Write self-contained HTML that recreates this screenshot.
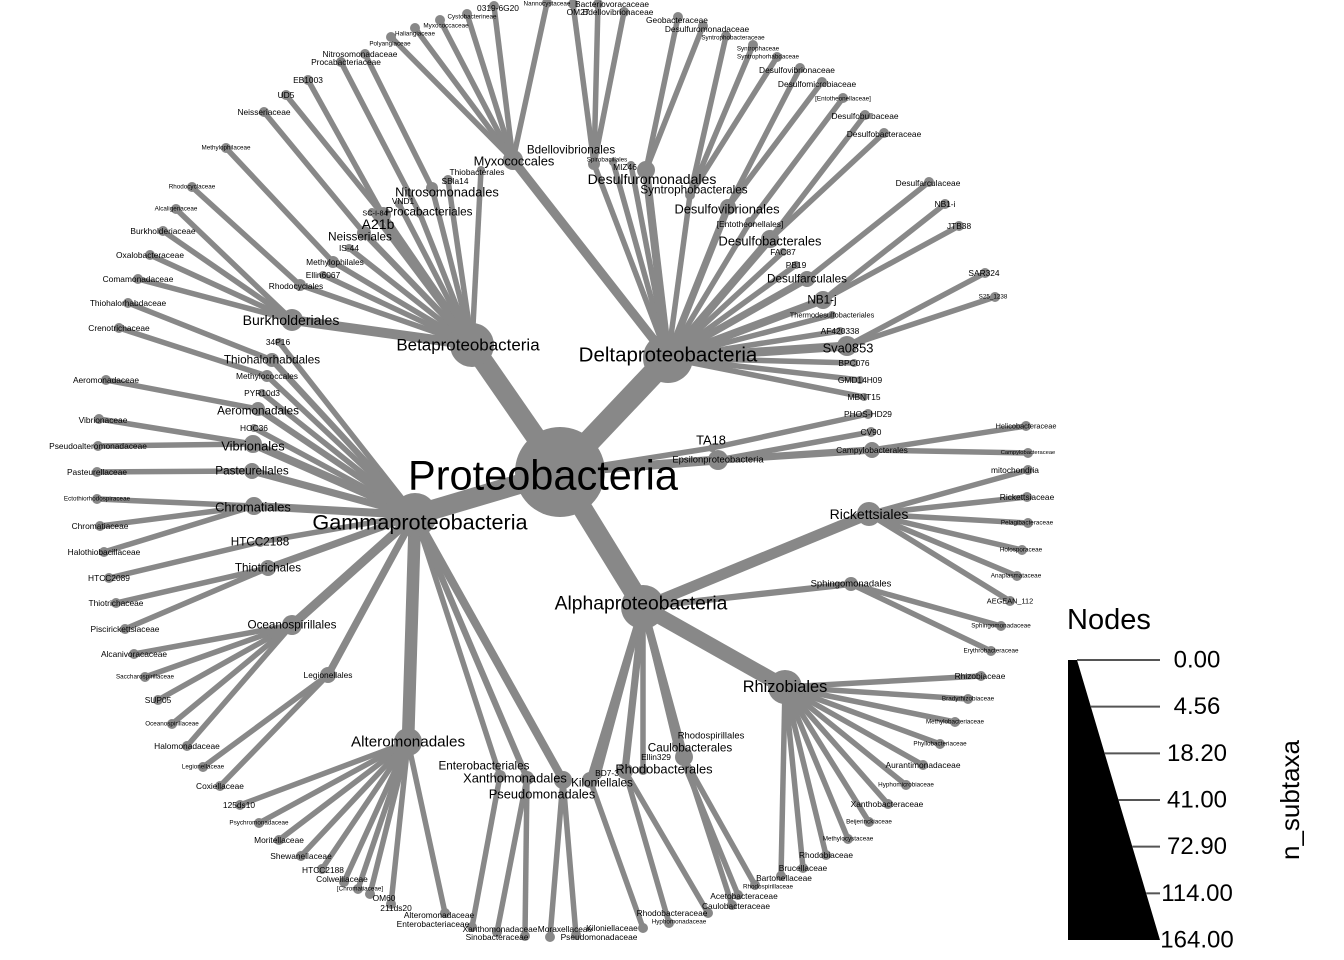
<!DOCTYPE html>
<html><head><meta charset="utf-8">
<style>
html,body{margin:0;padding:0;background:#fff;}
svg{display:block;font-family:"Liberation Sans",Arial,sans-serif;}
</style></head>
<body>
<svg id="chart" width="1344" height="960" viewBox="0 0 1344 960" xmlns="http://www.w3.org/2000/svg">
<g id="edges"></g>
<g id="nodes"></g>
<g id="labels"></g>
<g id="legend"></g>
</svg>
<script>
// taxon table: name, parent, x, y, radius, label font size, optional label x, label y
const taxa = [
["Proteobacteria",null,560,472,45,42,543,475],
["Betaproteobacteria","Proteobacteria",472,345,22,14.5,468,345],
["Deltaproteobacteria","Proteobacteria",668,358,25,17.5,668,355],
["Gammaproteobacteria","Proteobacteria",415,515,22,18.5,420,522],
["Alphaproteobacteria","Proteobacteria",643,607,22,16.5,641,604],
["Epsilonproteobacteria","Proteobacteria",718,460,10,9],
["TA18","Proteobacteria",712,448,4,11,711,440],
["Burkholderiales","Betaproteobacteria",292,320,11,12,291,320],
["Rhodocyclales","Betaproteobacteria",300,285,6,8,296,286],
["Ellin6067","Betaproteobacteria",323,275,4,8],
["Methylophilales","Betaproteobacteria",333,262,6,8,335,262],
["IS-44","Betaproteobacteria",349,248,4,8],
["Neisseriales","Betaproteobacteria",364,233,7,10,360,237],
["A21b","Betaproteobacteria",383,215,8,12,378,224],
["SC-I-84","Betaproteobacteria",372,212,4,7,375,213],
["VND1","Betaproteobacteria",399,204,4,8,403,201],
["Procabacteriales","Betaproteobacteria",420,214,4,10,429,212],
["Nitrosomonadales","Betaproteobacteria",432,188,6,11,447,192],
["SBla14","Betaproteobacteria",448,180,5,8,455,181],
["Thiobacterales","Betaproteobacteria",481,170,4,8,477,172],
["Methylophilaceae","Methylophilales",226,148,5,6],
["Rhodocyclaceae","Rhodocyclales",192,187,5,6],
["Alcaligenaceae","Burkholderiales",176,209,5,6],
["Burkholderiaceae","Burkholderiales",163,231,5,8],
["Oxalobacteraceae","Burkholderiales",150,255,5,8],
["Comamonadaceae","Burkholderiales",138,279,5,8],
["Neisseriaceae","Neisseriales",264,112,5,8],
["UD5","A21b",286,95,5,8],
["EB1003","A21b",308,80,5,8],
["Procabacteriaceae","Procabacteriales",341,62,5,8,346,62],
["Nitrosomonadaceae","Nitrosomonadales",365,54,5,8,360,54],
["Myxococcales","Deltaproteobacteria",513,160,10,11,514,161],
["Bdellovibrionales","Deltaproteobacteria",594,164,6,10,571,150],
["Spirobacillales","Deltaproteobacteria",613,162,4,6,607,160],
["MIZ46","Deltaproteobacteria",631,165,4,8,625,167],
["Desulfuromonadales","Deltaproteobacteria",646,170,9,12,652,179],
["Syntrophobacterales","Deltaproteobacteria",690,195,5,10,694,190],
["Desulfovibrionales","Deltaproteobacteria",728,207,8,11,727,209],
["[Entotheonellales]","Deltaproteobacteria",750,222,5,8,750,224],
["Desulfobacterales","Deltaproteobacteria",770,239,9,11,770,241],
["FAC87","Deltaproteobacteria",783,252,4,8],
["PB19","Deltaproteobacteria",796,265,4,8],
["Desulfarculales","Deltaproteobacteria",807,279,8,10],
["NB1-j","Deltaproteobacteria",823,300,9,10,822,300],
["Thermodesulfobacteriales","Deltaproteobacteria",832,315,4,7],
["AF420338","Deltaproteobacteria",840,331,4,8],
["Sva0853","Deltaproteobacteria",847,346,10,11,848,348],
["BPC076","Deltaproteobacteria",854,363,4,8],
["GMD14H09","Deltaproteobacteria",860,380,4,8],
["MBNT15","Deltaproteobacteria",864,397,4,8],
["Polyangiaceae","Myxococcales",391,37,5,6,390,44],
["Haliangiaceae","Myxococcales",415,28,5,6,415,34],
["Myxococcaceae","Myxococcales",440,20,5,6,446,26],
["Cystobacterineae","Myxococcales",467,14,5,6,472,17],
["0319-6G20","Myxococcales",494,6,5,8,498,8],
["Nannocystaceae","Myxococcales",547,3,5,6,547,4],
["OM27","Bdellovibrionales",573,4,5,8,578,12],
["Bacteriovoracaceae","Bdellovibrionales",598,4,5,8,612,4],
["Bdellovibrionaceae","Bdellovibrionales",624,12,5,8,618,12],
["Geobacteraceae","Desulfuromonadales",678,17,5,8,677,20],
["Desulfuromonadaceae","Desulfuromonadales",703,26,5,8,707,29],
["Syntrophobacteraceae","Syntrophobacterales",726,36,5,6,733,38],
["Syntrophaceae","Syntrophobacterales",753,45,5,6,758,49],
["Syntrophorhabdaceae","Syntrophobacterales",777,57,5,6,768,57],
["Desulfovibrionaceae","Desulfovibrionales",800,68,5,8,797,70],
["Desulfomicrobiaceae","Desulfovibrionales",822,82,5,8,817,84],
["[Entotheonellaceae]","[Entotheonellales]",843,98,5,6,843,99],
["Desulfobulbaceae","Desulfobacterales",865,115,5,8,865,116],
["Desulfobacteraceae","Desulfobacterales",884,133,5,8,884,134],
["Desulfarculaceae","Desulfarculales",929,182,5,8,928,183],
["NB1-i","NB1-j",945,204,5,8],
["JTB38","NB1-j",959,226,5,8],
["SAR324","Sva0853",985,273,5,8,984,273],
["S25_1238","Sva0853",995,297,5,6,993,297],
["PHOS-HD29","TA18",868,414,5,8],
["CV90","Epsilonproteobacteria",871,432,5,8],
["Campylobacterales","Epsilonproteobacteria",872,450,8,8],
["Helicobacteraceae","Campylobacterales",1026,426,5,7],
["Campylobacteraceae","Campylobacterales",1028,453,5,5.5],
["Rickettsiales","Alphaproteobacteria",869,514,12,12],
["Sphingomonadales","Alphaproteobacteria",851,584,7,9],
["Rhizobiales","Alphaproteobacteria",785,687,17,14],
["Caulobacterales","Alphaproteobacteria",684,757,9,10,690,748],
["Rhodospirillales","Alphaproteobacteria",676,744,4,9,711,736],
["Ellin329","Alphaproteobacteria",643,770,5,8,656,757],
["Rhodobacterales","Alphaproteobacteria",625,771,8,11,664,769],
["BD7-3","Alphaproteobacteria",598,775,4,8,607,773],
["Kiloniellales","Alphaproteobacteria",590,780,8,10,602,783],
["mitochondria","Rickettsiales",1028,470,5,8,1015,470],
["Rickettsiaceae","Rickettsiales",1027,497,5,8],
["Pelagibacteraceae","Rickettsiales",1028,523,5,6,1027,523],
["Holosporaceae","Rickettsiales",1022,550,5,6,1021,550],
["Anaplasmataceae","Rickettsiales",1017,576,5,6,1016,576],
["AEGEAN_112","Rickettsiales",1010,601,5,7],
["Sphingomonadaceae","Sphingomonadales",1001,626,5,6],
["Erythrobacteraceae","Sphingomonadales",991,651,5,6],
["Rhizobiaceae","Rhizobiales",981,676,5,8,980,676],
["Bradyrhizobiaceae","Rhizobiales",968,699,5,6],
["Methylobacteriaceae","Rhizobiales",955,722,5,6],
["Phyllobacteriaceae","Rhizobiales",940,744,5,6],
["Aurantimonadaceae","Rhizobiales",923,765,5,8],
["Hyphomicrobiaceae","Rhizobiales",906,785,5,6],
["Xanthobacteraceae","Rhizobiales",888,804,5,8,887,804],
["Beijerinckiaceae","Rhizobiales",869,822,5,6],
["Methylocystaceae","Rhizobiales",848,839,5,6],
["Rhodobiaceae","Rhizobiales",826,855,5,8],
["Brucellaceae","Rhizobiales",803,868,5,8],
["Bartonellaceae","Rhizobiales",781,876,5,8,784,878],
["Rhodospirillaceae","Rhodospirillales",755,885,5,6,768,887],
["Acetobacteraceae","Rhodospirillales",738,895,5,8,744,896],
["Caulobacteraceae","Caulobacterales",732,905,5,8,736,906],
["Rhodobacteraceae","Rhodobacterales",708,913,5,8,672,913],
["Hyphomonadaceae","Rhodobacterales",669,923,5,6,679,922],
["Kiloniellaceae","Kiloniellales",643,928,5,8,612,928],
["34P16","Gammaproteobacteria",279,342,4,8,278,342],
["Thiohalorhabdales","Gammaproteobacteria",272,360,7,10],
["Methylococcales","Gammaproteobacteria",267,376,6,8],
["PYR10d3","Gammaproteobacteria",262,393,4,8],
["Aeromonadales","Gammaproteobacteria",258,409,7,10,258,411],
["HOC36","Gammaproteobacteria",254,428,4,8],
["Vibrionales","Gammaproteobacteria",253,444,9,11,253,446],
["Pasteurellales","Gammaproteobacteria",252,471,8,10],
["Chromatiales","Gammaproteobacteria",254,506,9,11,253,507],
["HTCC2188","Gammaproteobacteria",260,542,5,10],
["Thiotrichales","Gammaproteobacteria",268,568,8,10],
["Oceanospirillales","Gammaproteobacteria",292,625,10,10],
["Legionellales","Gammaproteobacteria",328,675,8,8],
["Alteromonadales","Gammaproteobacteria",408,742,14,13],
["Enterobacteriales","Gammaproteobacteria",500,776,6,10,484,766],
["Xanthomonadales","Gammaproteobacteria",527,778,7,11,515,778],
["Pseudomonadales","Gammaproteobacteria",563,780,9,11,542,794],
["Thiohalorhabdaceae","Thiohalorhabdales",128,303,5,8],
["Crenotrichaceae","Methylococcales",119,328,5,8],
["Aeromonadaceae","Aeromonadales",106,380,5,8],
["Vibrionaceae","Vibrionales",99,419,5,8,103,420],
["Pseudoalteromonadaceae","Vibrionales",98,446,5,8],
["Pasteurellaceae","Pasteurellales",97,472,5,8],
["Ectothiorhodospiraceae","Chromatiales",97,499,5,6],
["Chromatiaceae","Chromatiales",100,526,5,8],
["Halothiobacillaceae","Chromatiales",104,552,5,8],
["HTCC2089","HTCC2188",109,578,5,8],
["Thiotrichaceae","Thiotrichales",116,603,5,8],
["Piscirickettsiaceae","Thiotrichales",125,629,5,8],
["Alcanivoracaceae","Oceanospirillales",134,654,5,8],
["Saccharospirillaceae","Oceanospirillales",145,677,5,6],
["SUP05","Oceanospirillales",158,700,5,8],
["Oceanospirillaceae","Oceanospirillales",172,724,5,6],
["Halomonadaceae","Oceanospirillales",187,746,5,8],
["Legionellaceae","Legionellales",203,767,5,6],
["Coxiellaceae","Legionellales",220,786,5,8],
["125ds10","Alteromonadales",240,805,5,8,239,805],
["Psychromonadaceae","Alteromonadales",259,823,5,6],
["Moritellaceae","Alteromonadales",279,840,5,8],
["Shewanellaceae","Alteromonadales",301,856,5,8],
["HTCC2188 ","Alteromonadales",322,869,5,8,323,870],
["Colwelliaceae","Alteromonadales",344,882,5,8,342,879],
["[Chromatiaceae]","Alteromonadales",358,889,5,6,360,889],
["OM60","Alteromonadales",370,894,5,8,384,898],
["211ds20","Alteromonadales",391,904,5,8,396,908],
["Alteromonadaceae","Alteromonadales",445,913,5,8,439,915],
["Enterobacteriaceae","Enterobacteriales",472,927,5,8,433,924],
["Xanthomonadaceae","Xanthomonadales",497,932,5,8,500,929],
["Sinobacteraceae","Xanthomonadales",525,936,5,8,497,937],
["Moraxellaceae","Pseudomonadales",550,937,5,8,565,929],
["Pseudomonadaceae","Pseudomonadales",576,935,5,8,599,937]
];
const legendTicks = ["0.00","4.56","18.20","41.00","72.90","114.00","164.00"];

const NS="http://www.w3.org/2000/svg";
const byName={};
taxa.forEach(t=>byName[t[0]]=t);
const gE=document.getElementById('edges'),gN=document.getElementById('nodes'),gL=document.getElementById('labels');
function slug(s){return s.trim().toLowerCase().replace(/[^a-z0-9]+/g,'-').replace(/^-|-$/g,'');}
taxa.forEach(t=>{
  if(!t[1])return;
  const p=byName[t[1]];
  const l=document.createElementNS(NS,'line');
  l.setAttribute('x1',p[2]);l.setAttribute('y1',p[3]);l.setAttribute('x2',t[2]);l.setAttribute('y2',t[3]);
  l.setAttribute('stroke','#888');
  l.setAttribute('stroke-width',Math.max(5.5,t[4]*0.9));
  
  
  gE.appendChild(l);
});
taxa.forEach(t=>{
  const c=document.createElementNS(NS,'circle');
  c.setAttribute('cx',t[2]);c.setAttribute('cy',t[3]);c.setAttribute('r',t[4]);c.setAttribute('fill','#888');
  
  
  gN.appendChild(c);
});
taxa.forEach(t=>{
  const tx=document.createElementNS(NS,'text');
  const lx=t.length>6?t[6]:t[2], ly=t.length>6?t[7]:t[3];
  tx.setAttribute('x',lx);tx.setAttribute('y',ly);
  const fs=t[0]==="Proteobacteria"?t[5]:(t[5]>=10?t[5]*1.17:t[5]*1.05);
  tx.setAttribute('font-size',fs);
  tx.setAttribute('text-anchor','middle');
  tx.setAttribute('dominant-baseline','central');
  tx.setAttribute('fill','#000');
  if(t[0]==="Proteobacteria"){tx.setAttribute('textLength',270);tx.setAttribute('lengthAdjust','spacingAndGlyphs');}
  tx.textContent=t[0].trim();
  
  
  gL.appendChild(tx);
});
const gLg=document.getElementById('legend');
const legTop=660,legBot=940,lx0=1068,lx1=1160;
const title=document.createElementNS(NS,'text');
title.setAttribute('x',1067);title.setAttribute('y',629);title.setAttribute('font-size',29);
title.textContent='Nodes';


gLg.appendChild(title);
const tri=document.createElementNS(NS,'polygon');
tri.setAttribute('points',`${lx0},${legTop} ${lx0+9},${legTop} ${lx1},${legBot} ${lx0},${legBot}`);
tri.setAttribute('fill','#000');


gLg.appendChild(tri);
legendTicks.forEach((lab,i)=>{
  const y=legTop+(legBot-legTop)*i/(legendTicks.length-1);
  const xe=lx0+9+(lx1-lx0-9)*i/(legendTicks.length-1);
  const ln=document.createElementNS(NS,'line');
  ln.setAttribute('x1',xe);ln.setAttribute('x2',lx1);ln.setAttribute('y1',y);ln.setAttribute('y2',y);
  ln.setAttribute('stroke','#555');ln.setAttribute('stroke-width',2);
  
  
  gLg.appendChild(ln);
  const t=document.createElementNS(NS,'text');
  t.setAttribute('x',1197);t.setAttribute('y',y);t.setAttribute('font-size',24);
  t.setAttribute('text-anchor','middle');t.setAttribute('dominant-baseline','central');
  t.textContent=lab;
  
  
  gLg.appendChild(t);
});
const ax=document.createElementNS(NS,'text');
ax.setAttribute('x',0);ax.setAttribute('y',0);ax.setAttribute('font-size',26);
ax.setAttribute('text-anchor','middle');
ax.setAttribute('transform','translate(1299,800) rotate(-90)');
ax.textContent='n_subtaxa';


gLg.appendChild(ax);
</script>
</body></html>
